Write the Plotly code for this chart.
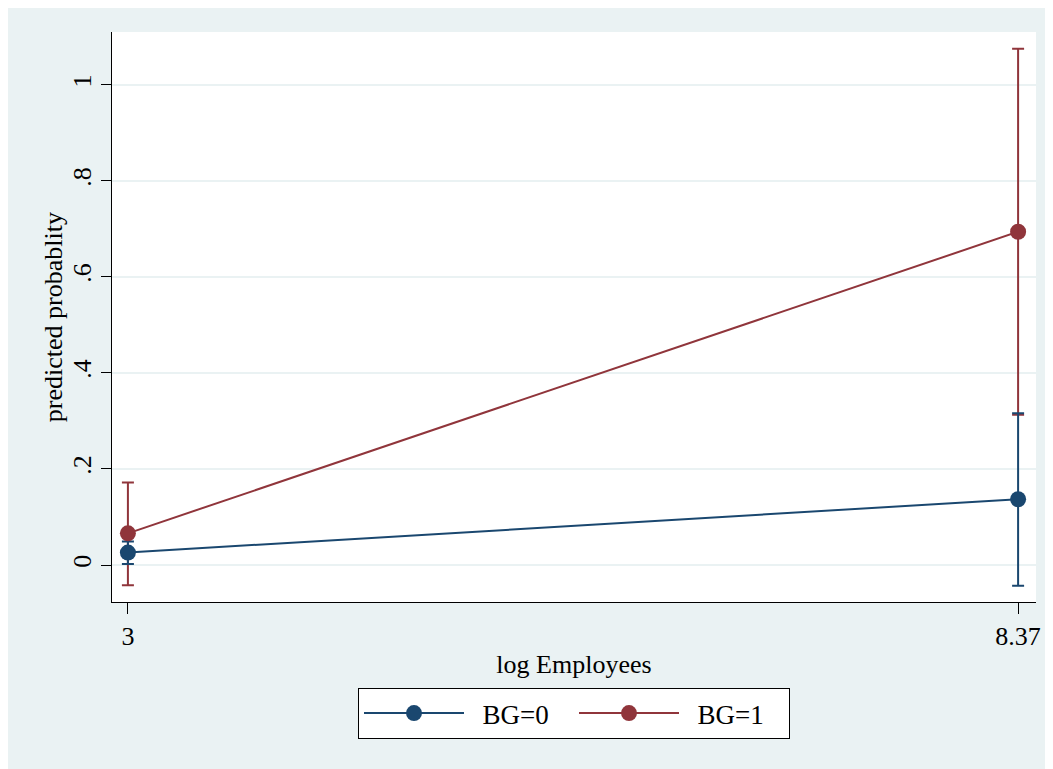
import plotly.graph_objects as go

x_vals = [3, 8.37]
x_tick_text = ["3", "8.37"]
bg0_mean = [0.026, 0.137]
bg0_lo = [0.002, -0.043]
bg0_hi = [0.049, 0.316]
bg1_mean = [0.066, 0.694]
bg1_lo = [-0.042, 0.313]
bg1_hi = [0.172, 1.075]
y_ticks = [0, 0.2, 0.4, 0.6, 0.8, 1]
y_tick_text = ["0", ".2", ".4", ".6", ".8", "1"]
series_names = ["BG=0", "BG=1"]

NAVY = "#1a476f"
MAROON = "#90353b"
BG = "#eaf2f3"
FONT = "Liberation Serif"
FS = 26
PAD = "\u00a0\u00a0"

# page body has an 8px margin; figure coordinates below are relative to it
W, H = 1045, 761
L, T = 104, 24
R, B = W - 1031, H - 594
pw, ph = W - L - R, H - T - B


def err(mean, lo, hi, color):
    return dict(type="data", symmetric=False,
                array=[h - m for h, m in zip(hi, mean)],
                arrayminus=[m - l for m, l in zip(mean, lo)],
                color=color, thickness=2, width=6)


fig = go.Figure()
# CI caps
fig.add_trace(go.Scatter(x=x_vals, y=bg1_mean, mode="markers",
                         marker=dict(size=1, opacity=0, color=MAROON),
                         error_y=err(bg1_mean, bg1_lo, bg1_hi, MAROON),
                         showlegend=False, hoverinfo="skip"))
fig.add_trace(go.Scatter(x=x_vals, y=bg0_mean, mode="markers",
                         marker=dict(size=1, opacity=0, color=NAVY),
                         error_y=err(bg0_mean, bg0_lo, bg0_hi, NAVY),
                         showlegend=False, hoverinfo="skip"))
# lines with markers
fig.add_trace(go.Scatter(x=x_vals, y=bg0_mean, mode="lines+markers", name=PAD + series_names[0],
                         line=dict(color=NAVY, width=2),
                         marker=dict(color=NAVY, size=16)))
fig.add_trace(go.Scatter(x=x_vals, y=bg1_mean, mode="lines+markers", name=PAD + series_names[1],
                         line=dict(color=MAROON, width=2),
                         marker=dict(color=MAROON, size=16)))

fig.add_annotation(text="predicted probablity", textangle=-90, showarrow=False,
                   xref="paper", yref="paper", x=(45 - L) / pw, y=0.5,
                   xanchor="center", yanchor="middle",
                   font=dict(family=FONT, size=FS, color="black"))

fig.update_layout(
    width=W, height=H,
    margin=dict(l=L, r=R, t=T, b=B, pad=0),
    paper_bgcolor=BG, plot_bgcolor="white",
    font=dict(family=FONT, size=FS, color="black"),
    showlegend=True,
    legend=dict(orientation="h", x=0.5, xanchor="center",
                y=(594 - 680) / ph, yanchor="top",
                bgcolor="white", bordercolor="black", borderwidth=1,
                font=dict(family=FONT, size=27, color="black"),
                itemwidth=100, entrywidth=100, entrywidthmode="pixels"),
    xaxis=dict(range=[2.904, 8.478], tickmode="array", tickvals=x_vals, ticktext=x_tick_text,
               showgrid=False, zeroline=False, showline=True, linecolor="black", linewidth=1,
               ticks="outside", ticklen=11, tickcolor="black", tickwidth=1,
               title=dict(text="log Employees", font=dict(family=FONT, size=FS), standoff=4),
               tickfont=dict(family=FONT, size=FS)),
    yaxis=dict(range=[-0.077, 1.110], tickmode="array", tickvals=y_ticks, ticktext=y_tick_text,
               tickangle=-90, showgrid=True, gridcolor=BG, gridwidth=2,
               zeroline=False, showline=True, linecolor="black", linewidth=1,
               ticks="outside", ticklen=10, tickcolor="black", tickwidth=1,
               tickfont=dict(family=FONT, size=FS)),
)

fig.write_html("out.html")
